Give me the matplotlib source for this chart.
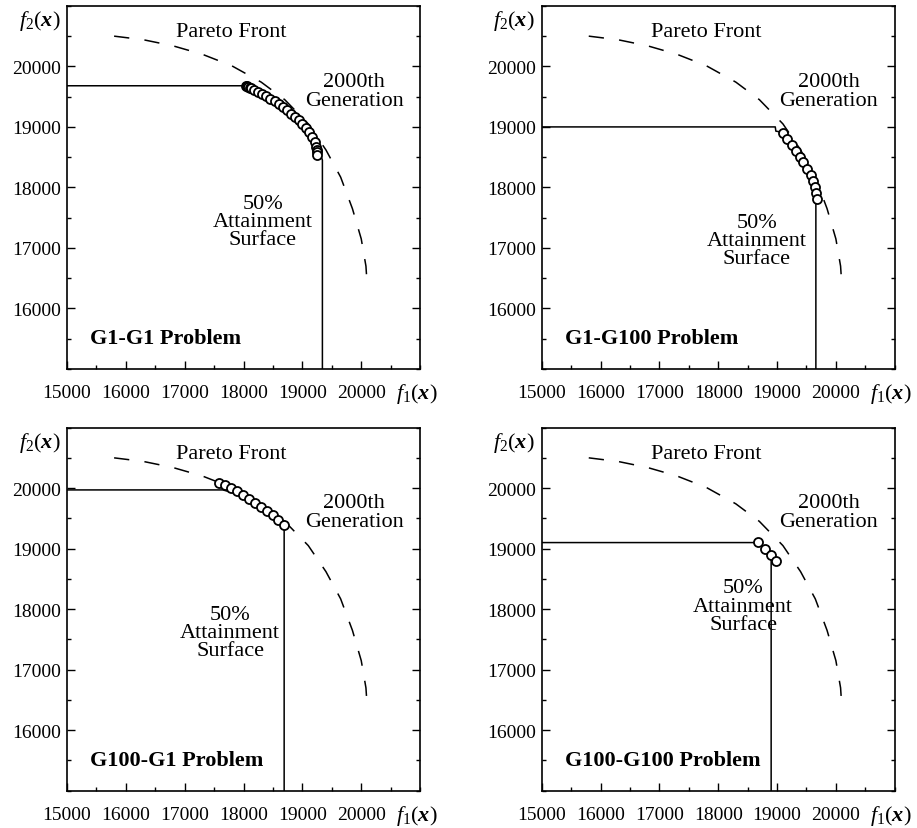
# Attainment surfaces of the four two-objective problems after 2000 generations

import numpy as np
import matplotlib
matplotlib.use('Agg')
import matplotlib.pyplot as plt
from matplotlib.ticker import MultipleLocator

plt.rcParams['font.family'] = ['Liberation Serif', 'DejaVu Serif']
plt.rcParams['mathtext.fontset'] = 'custom'
plt.rcParams['mathtext.rm'] = 'Liberation Serif'
plt.rcParams['mathtext.it'] = 'Liberation Serif:italic'
plt.rcParams['mathtext.bf'] = 'Liberation Serif:bold'
plt.rcParams['mathtext.bfit'] = 'Liberation Serif:italic:bold'

# Pareto front (same for all problems)
front_f1 = [15800, 16300, 16800, 17300, 17800, 18300, 18700, 19100, 19400,
            19650, 19850, 20000, 20080, 20100]
front_f2 = [20500, 20440, 20340, 20200, 20010, 19740, 19450, 19050, 18620,
            18170, 17650, 17150, 16700, 16400]

titles = ['G1-G1 Problem', 'G1-G100 Problem', 'G100-G1 Problem', 'G100-G100 Problem']

# final populations
pop_f1 = [
    [18046, 18060, 18080, 18102, 18130, 18170, 18243, 18317, 18385, 18453,
     18526, 18600, 18667, 18735, 18803, 18871, 18939, 18996, 19053, 19109,
     19166, 19211, 19234, 19240, 19244, 19244],
    [19098, 19177, 19262, 19325, 19393, 19449, 19506, 19574, 19608, 19642,
     19665, 19687],
    [17584, 17692, 17783, 17886, 17988, 18090, 18193, 18295, 18397, 18499,
     18590, 18680],
    [18680, 18800, 18900, 18990],
]
pop_f2 = [
    [19670, 19680, 19665, 19648, 19635, 19615, 19577, 19550, 19505, 19467,
     19422, 19373, 19330, 19274, 19219, 19165, 19109, 19043, 18988, 18917,
     18835, 18752, 18670, 18620, 18587, 18530],
    [18906, 18807, 18709, 18610, 18511, 18412, 18302, 18203, 18104, 18005,
     17906, 17807],
    [20083, 20044, 20000, 19944, 19889, 19822, 19756, 19689, 19622, 19556,
     19472, 19389],
    [19117, 19000, 18900, 18800],
]

# 50% attainment surfaces
att_f1 = [
    [15000, 18050, 18300, 18600, 18900, 19150, 19280, 19340, 19340],
    [15000, 18970, 18980, 19100, 19330, 19510, 19640, 19660, 19660],
    [15000, 17650, 17900, 18200, 18500, 18690, 18690],
    [15000, 18680, 18800, 18900, 18900],
]
att_f2 = [
    [19680, 19680, 19580, 19400, 19150, 18880, 18650, 18450, 15000],
    [19000, 19000, 18930, 18910, 18610, 18300, 18000, 17750, 15000],
    [19970, 19970, 19900, 19730, 19530, 19380, 15000],
    [19100, 19100, 19000, 18880, 15000],
]

# where the "50% Attainment Surface" note sits in each panel
att_text_f1 = [18330, 18656, 17770, 18425]
att_text_f2 = [17435, 17120, 17617, 18050]

fig = plt.figure(figsize=(9.17, 8.29), dpi=100)
lefts = [0.0731, 0.5907, 0.0731, 0.5907]
bottoms = [0.5537, 0.5537, 0.045, 0.045]

for i in range(4):
    ax = fig.add_axes([lefts[i], bottoms[i], 0.385, 0.438])
    ax.plot(front_f1, front_f2, color='black', lw=1.1, dashes=(10, 10))
    ax.plot(att_f1[i], att_f2[i], color='black', lw=1.1)
    ax.plot(pop_f1[i], pop_f2[i], 'o', ms=6.5, mfc='white', mec='black', mew=1.3)

    ax.set_xlim(15000, 21000)
    ax.set_ylim(15000, 21000)
    ax.set_xticks([15000, 16000, 17000, 18000, 19000, 20000])
    ax.set_yticks([16000, 17000, 18000, 19000, 20000])
    ax.xaxis.set_minor_locator(MultipleLocator(500))
    ax.yaxis.set_minor_locator(MultipleLocator(500))
    ax.tick_params(which='both', direction='in', top=False, right=True,
                   labelsize=14, width=1.0)
    ax.tick_params(which='major', length=6)
    ax.tick_params(which='minor', length=3)
    ax.tick_params(axis='x', pad=11)
    ax.tick_params(axis='y', pad=4)
    for s in ax.spines.values():
        s.set_linewidth(1.2)

    ax.text(-0.078, 0.961, r'$f_2(\mathbfit{x})$', transform=ax.transAxes,
            ha='center', va='center', fontsize=16)
    ax.text(0.99, -0.066, r'$f_1(\mathbfit{x})$', transform=ax.transAxes,
            ha='center', va='center', fontsize=16)

    ax.text(17790, 20575, 'Pareto Front', ha='center', va='center', fontsize=16)
    ax.text(19880, 19600, '2000th\nGeneration', ha='center', va='center',
            fontsize=16, linespacing=1.0)
    ax.text(att_text_f1[i], att_text_f2[i], '50%\nAttainment\nSurface',
            ha='center', va='center', fontsize=16, linespacing=0.95)
    ax.text(15390, 15510, titles[i], ha='left', va='center', fontsize=16,
            fontweight='bold')

plt.savefig('out.png', dpi=100)
